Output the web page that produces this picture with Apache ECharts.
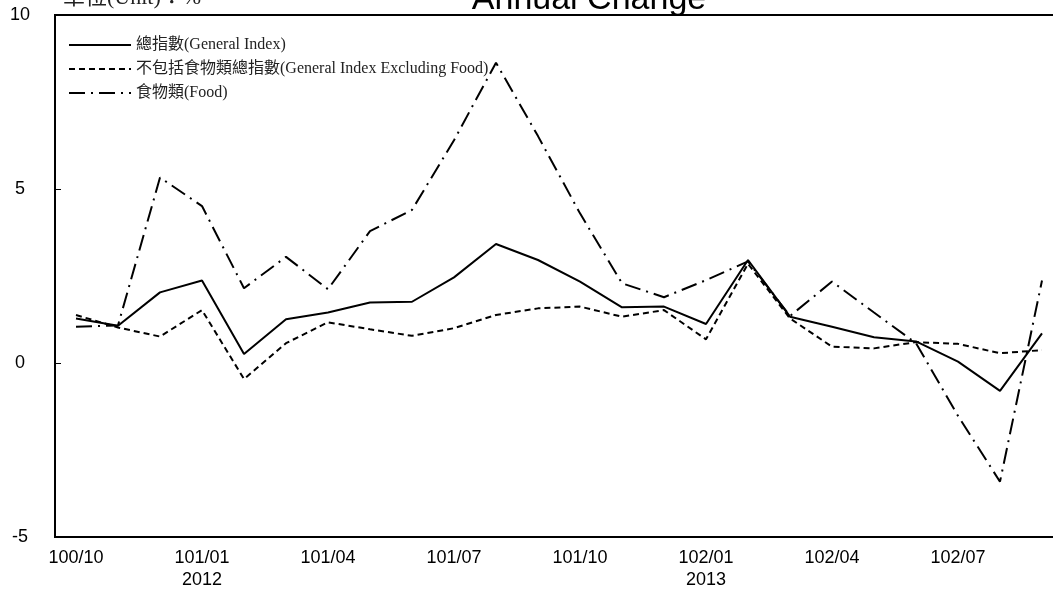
<!DOCTYPE html>
<html>
<head>
<meta charset="utf-8">
<script src="https://cdn.jsdelivr.net/npm/echarts@6/dist/echarts.min.js"></script>
<style>html,body{margin:0;padding:0;background:#fff;}#c{width:1053px;height:594px;}</style>
</head>
<body>
<div id="c"></div>
<script>
const categories = ['100/10','100/11','100/12','101/01','101/02','101/03','101/04','101/05','101/06','101/07','101/08','101/09','101/10','101/11','101/12','102/01','102/02','102/03','102/04','102/05','102/06','102/07','102/08','102/09'];
const yearLabels = {'101/01':'2012','102/01':'2013'};
const seriesNames = ['總指數(General Index)','不包括食物類總指數(General Index Excluding Food)','食物類(Food)'];
const generalIndex = [1.28,1.07,2.03,2.37,0.26,1.26,1.45,1.74,1.76,2.46,3.42,2.96,2.34,1.60,1.62,1.12,2.96,1.33,1.04,0.74,0.62,0.04,-0.80,0.85];
const excludingFood = [1.38,1.02,0.76,1.52,-0.46,0.57,1.17,0.97,0.78,1.00,1.38,1.57,1.62,1.33,1.52,0.68,2.85,1.28,0.47,0.42,0.60,0.55,0.28,0.37];
const food = [1.04,1.08,5.33,4.51,2.15,3.05,2.12,3.79,4.40,6.40,8.63,6.52,4.30,2.29,1.89,2.38,2.92,1.35,2.34,1.45,0.57,-1.52,-3.41,2.37];
const yTicks = {min:-5, max:10, interval:5};

const chart = echarts.init(document.getElementById('c'));
const serifFont = "'Liberation Serif','Times New Roman','Noto Sans CJK TC',serif";
const sansFont = "'Liberation Sans',Arial,sans-serif";
chart.setOption({
  animation:false,
  backgroundColor:'#fff',
  grid:{left:55, width:1008, top:15, height:522, show:true, borderColor:'#000', borderWidth:2, containLabel:false, outerBoundsMode:'none'},
  graphic:[
    {type:'text', x:589, y:17, style:{text:'Annual Change', font:'34px '+sansFont, fill:'#000', textAlign:'center', textVerticalAlign:'bottom'}},
    {type:'text', x:63, y:9, style:{text:'單位(Unit)：%', font:'22px '+serifFont, fill:'#222', textAlign:'left', textVerticalAlign:'bottom'}}
  ],
  legend:{
    orient:'vertical', left:63, top:32, itemWidth:62, itemHeight:14, itemGap:8,
    itemStyle:{opacity:0},
    lineStyle:{width:2},
    textStyle:{fontFamily:serifFont, fontSize:16, color:'#222'},
    data:seriesNames
  },
  xAxis:{
    type:'category', data:categories, boundaryGap:true,
    axisLine:{onZero:false, lineStyle:{color:'#000', width:2}},
    axisTick:{inside:true, length:5, interval:0, lineStyle:{color:'#000', width:1}},
    axisLabel:{interval:2, margin:10, color:'#000', fontFamily:sansFont, fontSize:18, lineHeight:22,
      formatter:function(v){return yearLabels[v] ? v+'\n'+yearLabels[v] : v;}},
    splitLine:{show:false}
  },
  yAxis:{
    type:'value', min:yTicks.min, max:yTicks.max, interval:yTicks.interval,
    axisLine:{show:true, lineStyle:{color:'#000', width:2}},
    axisTick:{show:true, inside:true, length:6, lineStyle:{color:'#000', width:1}},
    axisLabel:{color:'#000', fontFamily:sansFont, fontSize:18, align:'center', margin:35},
    splitLine:{show:false}
  },
  series:[
    {name:seriesNames[0], type:'line', data:generalIndex, symbol:'none', lineStyle:{color:'#000', width:2, type:'solid'}, itemStyle:{color:'#000'}},
    {name:seriesNames[1], type:'line', data:excludingFood, symbol:'none', lineStyle:{color:'#000', width:2, type:[6,4]}, itemStyle:{color:'#000'}},
    {name:seriesNames[2], type:'line', data:food, symbol:'none', lineStyle:{color:'#000', width:2, type:[16,6,2,6]}, itemStyle:{color:'#000'}}
  ]
});
</script>
</body>
</html>
